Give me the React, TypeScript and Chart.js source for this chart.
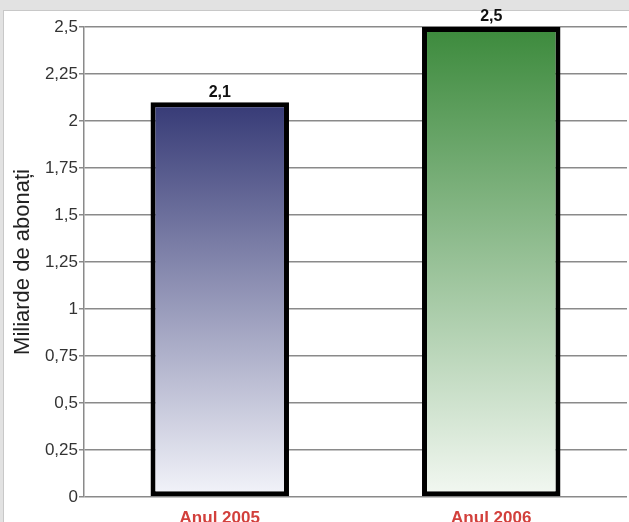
import React, { useEffect, useRef } from "react";
import { Chart, registerables } from "chart.js";

Chart.register(...registerables);

const categories = ["Anul 2005", "Anul 2006"];
const values = [2.1, 2.5];
const valueLabels = ["2,1", "2,5"];
const topColors = ["#363a76", "#3c8a3c"];
const bottomColors = ["#f3f4fa", "#f3f8f2"];

const fmt = (v: number) => String(v).replace(".", ",");

const bgPlugin = {
  id: "bgPlugin",
  beforeDraw(chart: any) {
    const ctx = chart.ctx;
    ctx.save();
    ctx.fillStyle = "#e2e2e2";
    ctx.fillRect(0, 0, chart.width, chart.height);
    ctx.fillStyle = "#ffffff";
    ctx.fillRect(3, 10, chart.width - 3, chart.height - 10);
    ctx.strokeStyle = "#c8c8c8";
    ctx.lineWidth = 1;
    ctx.strokeRect(3.5, 10.5, chart.width, chart.height);
    ctx.restore();
  },
};

const labelPlugin = {
  id: "labelPlugin",
  afterDatasetsDraw(chart: any) {
    const ctx = chart.ctx;
    const meta = chart.getDatasetMeta(0);
    ctx.save();
    ctx.font = "bold 16px Arial, 'Liberation Sans', sans-serif";
    ctx.fillStyle = "#111";
    ctx.textAlign = "center";
    ctx.textBaseline = "bottom";
    meta.data.forEach((bar: any, i: number) => {
      ctx.fillText(valueLabels[i], bar.x, bar.y - 2);
    });
    ctx.restore();
  },
};

export default function App() {
  const ref = useRef<HTMLCanvasElement>(null);
  useEffect(() => {
    const chart = new Chart(ref.current!, {
      type: "bar",
      data: {
        labels: categories,
        datasets: [
          {
            data: values,
            backgroundColor: (c: any) => {
              const ch = c.chart;
              const area = ch.chartArea;
              if (!area) return topColors[c.dataIndex];
              const yTop = ch.scales.y.getPixelForValue(values[c.dataIndex]);
              const g = ch.ctx.createLinearGradient(0, yTop, 0, area.bottom);
              g.addColorStop(0, topColors[c.dataIndex]);
              g.addColorStop(1, bottomColors[c.dataIndex]);
              return g;
            },
            borderColor: "#000",
            borderWidth: 5,
            borderSkipped: false,
            categoryPercentage: 1,
            barPercentage: 0.51,
          },
        ],
      },
      options: {
        responsive: false,
        animation: false,
        layout: { padding: { top: 27, left: 8, right: 2, bottom: 0 } },
        plugins: { legend: { display: false }, tooltip: { enabled: false } },
        scales: {
          x: {
            grid: { display: false },
            border: { display: false },
            ticks: {
              color: "#d2403c",
              font: { family: "Arial, 'Liberation Sans', sans-serif", size: 17, weight: "bold" },
              padding: 3,
            },
            afterFit: (s: any) => {
              s.height = 25;
            },
          },
          y: {
            min: 0,
            max: 2.5,
            ticks: {
              stepSize: 0.25,
              color: "#333",
              font: { family: "Arial, 'Liberation Sans', sans-serif", size: 17 },
              padding: 1,
              callback: (v: any) => fmt(Number(v)),
            },
            grid: { color: "#8a8a8a", lineWidth: 1.5, tickLength: 5 },
            border: { color: "#8a8a8a", width: 1.5 },
            title: {
              display: true,
              text: "Miliarde de abonați",
              color: "#222",
              font: { family: "Arial, 'Liberation Sans', sans-serif", size: 22 },
              padding: { top: 2, bottom: 0 },
            },
            afterFit: (s: any) => {
              s.width = 76;
            },
          },
        },
      },
      plugins: [bgPlugin, labelPlugin],
    });
    return () => chart.destroy();
  }, []);
  return (
    <div style={{ position: "absolute", left: 0, top: 0, width: 629, height: 522 }}>
      <canvas ref={ref} width={629} height={522} />
    </div>
  );
}
